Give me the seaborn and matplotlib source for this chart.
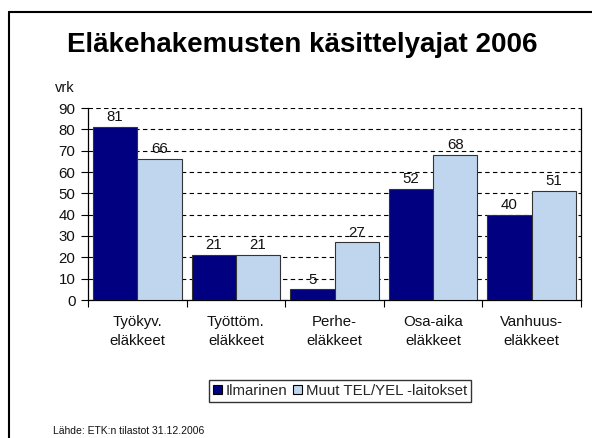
import numpy as np
import pandas as pd
import matplotlib.pyplot as plt
from matplotlib.lines import Line2D
import seaborn as sns

# Data
categories = ["Työkyv.\neläkkeet", "Työttöm.\neläkkeet", "Perhe-\neläkkeet",
              "Osa-aika\neläkkeet", "Vanhuus-\neläkkeet"]
ilmarinen = [81, 21, 5, 52, 40]
muut = [66, 21, 27, 68, 51]
series_names = ["Ilmarinen", "Muut TEL/YEL -laitokset"]
colors = ["#000080", "#BFD6EE"]

df = pd.DataFrame({
    "kategoria": categories * 2,
    "sarja": [series_names[0]] * 5 + [series_names[1]] * 5,
    "vrk": ilmarinen + muut,
})

sns.set_theme(style="white")
plt.rcParams["font.family"] = ["Liberation Sans", "DejaVu Sans"]

fig = plt.figure(figsize=(5.92, 4.38), dpi=100)
ax = fig.add_axes([88 / 592, 1 - 300 / 438, (581 - 88) / 592, (300 - 108) / 438])

sns.barplot(data=df, x="kategoria", y="vrk", hue="sarja", palette=colors, saturation=1,
            width=0.9, edgecolor="#333333", linewidth=0.8, ax=ax, zorder=3)

for c in ax.containers:
    ax.bar_label(c, padding=2, fontsize=10.8, color="#111111")

ax.set_ylim(0, 90)
ax.set_xlim(-0.5, 4.5)
ax.set_yticks(range(0, 91, 10))
ax.yaxis.grid(True, color="black", linestyle=(0, (4, 3)), linewidth=0.8)
ax.set_axisbelow(True)
ax.set_xlabel("")
ax.set_ylabel("")
ax.set_xticks(np.arange(-0.5, 5, 1), minor=True)
ax.tick_params(axis="x", which="major", length=0, labelsize=10.8, pad=11, colors="#111111")
for lab in ax.get_xticklabels():
    lab.set_linespacing(1.45)
ax.tick_params(axis="x", which="minor", length=5, width=0.8, color="black", direction="out", bottom=True)
ax.tick_params(axis="y", length=5, width=0.8, color="black", direction="out", left=True,
               labelsize=10.8, pad=4, colors="#111111")
for s in ax.spines.values():
    s.set_color("black")
    s.set_linewidth(0.9)
ax.spines["top"].set_visible(False)

ax.legend_.remove()
handles = [plt.Rectangle((0, 0), 1, 1, facecolor=col, edgecolor="black", linewidth=0.8) for col in colors]
fig.legend(handles, series_names, loc="center", bbox_to_anchor=(340 / 592, 1 - 391 / 438),
           ncol=2, frameon=True, fancybox=False, edgecolor="black", fontsize=10.8,
           handlelength=0.6, handleheight=0.6, handletextpad=0.25, columnspacing=0.35,
           borderpad=0.25, borderaxespad=0)

fig.text(302 / 592, 1 - 45 / 438, "Eläkehakemusten käsittelyajat 2006", ha="center", va="center",
         fontsize=20, fontweight="bold", color="black")
fig.text(55 / 592, 1 - 88 / 438, "vrk", ha="left", va="center", fontsize=10.5, color="#111111")
fig.text(53 / 592, 1 - 431 / 438, "Lähde: ETK:n tilastot 31.12.2006", ha="left", va="center",
         fontsize=7.5, color="#111111")

# slide frame
fig.add_artist(Line2D([8.5 / 592, 1], [1 - 11.5 / 438] * 2, transform=fig.transFigure, color="black", lw=1.5))
fig.add_artist(Line2D([8.5 / 592] * 2, [1 - 11.5 / 438, 0], transform=fig.transFigure, color="black", lw=1.5))

fig.savefig("out.png", dpi=100)
